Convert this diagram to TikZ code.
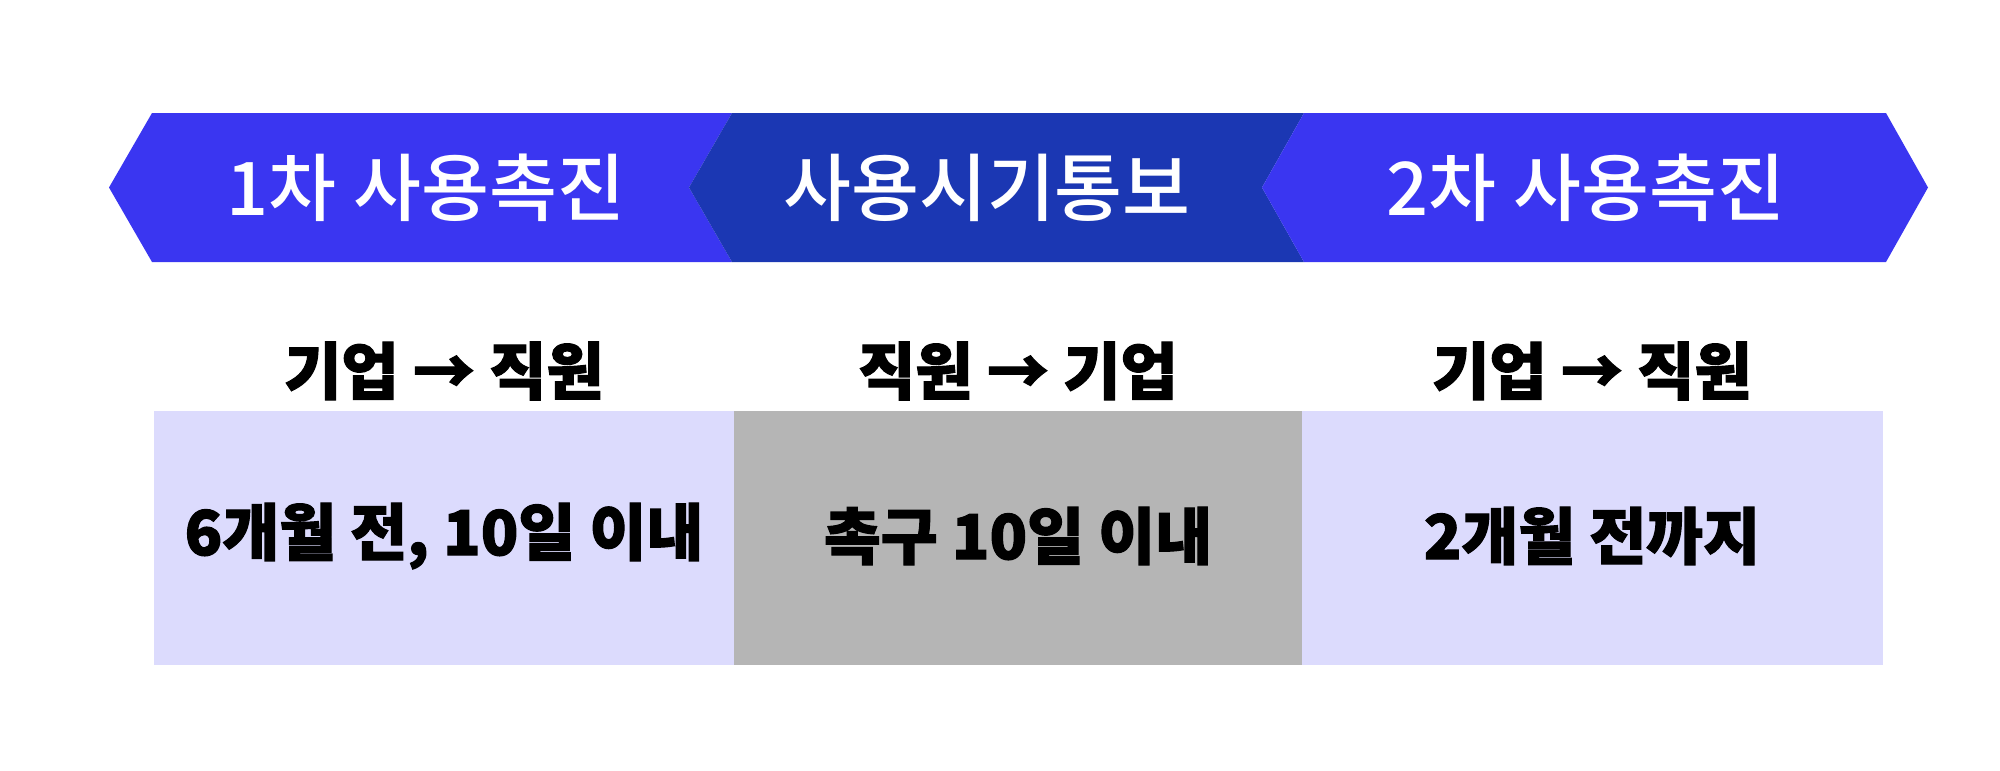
\documentclass[tikz,border=0pt]{standalone}
\usepackage{fontspec}
\newfontfamily\krmid{Noto Sans CJK KR Medium}
\newfontfamily\krheavy{Noto Sans CJK KR}[BoldFeatures={FakeBold=1.8}]
\definecolor{pushblue}{HTML}{3A36F1}
\definecolor{noticeblue}{HTML}{1B37B3}
\definecolor{lilac}{HTML}{DCDBFD}
\definecolor{boxgray}{HTML}{B5B5B5}
\begin{document}
\begin{tikzpicture}[
        banner/.style={text=white,font=\krmid\fontsize{21}{21}\selectfont},
        flow/.style={font=\krheavy\bfseries\fontsize{17.7}{17.7}\selectfont},
        period/.style={font=\krheavy\bfseries\fontsize{17.6}{17.6}\selectfont}]
                \useasboundingbox (0,0) rectangle (20,-7.7);
                % chevron banner
                \fill[pushblue] (1.09,-1.875) -- (1.52,-1.13) -- (7.32,-1.13) -- (6.89,-1.875) -- (7.32,-2.62) -- (1.52,-2.62) -- cycle;
                \fill[noticeblue] (6.89,-1.875) -- (7.32,-1.13) -- (13.04,-1.13) -- (12.62,-1.875) -- (13.04,-2.62) -- (7.32,-2.62) -- cycle;
                \fill[pushblue] (12.62,-1.875) -- (13.04,-1.13) -- (18.86,-1.13) -- (19.28,-1.875) -- (18.86,-2.62) -- (13.04,-2.62) -- cycle;
                \node[banner] (first) at (4.26,-1.875) {1차 사용촉진};
                \node[banner] (notice) at (9.87,-1.875) {사용시기통보};
                \node[banner] (second) at (15.86,-1.875) {2차 사용촉진};
                % boxes
                \fill[lilac] (1.54,-4.11) rectangle (7.34,-6.65);
                \fill[boxgray] (7.34,-4.11) rectangle (13.02,-6.65);
                \fill[lilac] (13.02,-4.11) rectangle (18.83,-6.65);
                \node[flow] (dirone) at (4.44,-3.71) {기업 → 직원};
                \node[flow] (dirtwo) at (10.18,-3.71) {직원 → 기업};
                \node[flow] (dirthree) at (15.92,-3.71) {기업 → 직원};
                \node[period] (perone) at (4.44,-5.36) {6개월 전, 10일 이내};
                \node[period] (pertwo) at (10.18,-5.36) {촉구 10일 이내};
                \node[period] (perthree) at (15.92,-5.36) {2개월 전까지};
\end{tikzpicture}
\end{document}
